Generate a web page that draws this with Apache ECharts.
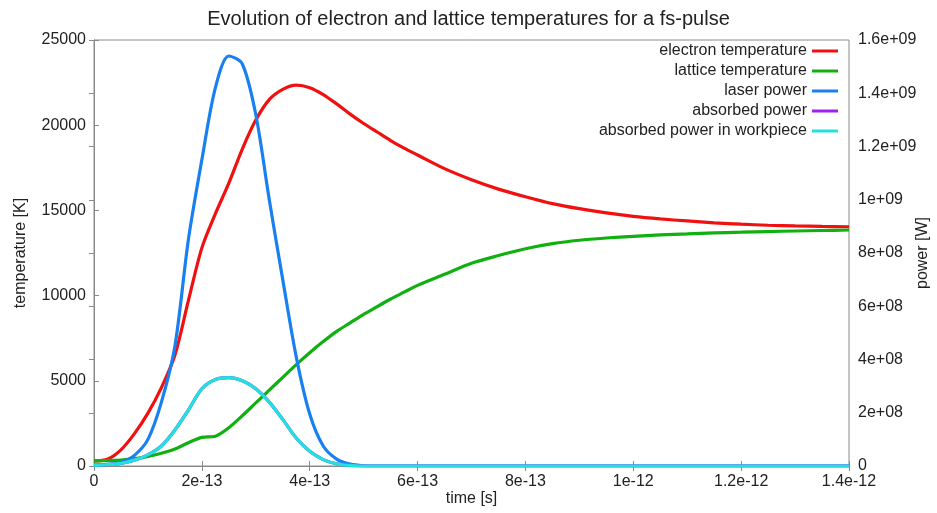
<!DOCTYPE html>
<html>
<head>
<meta charset="utf-8">
<script src="https://cdn.jsdelivr.net/npm/echarts@6/dist/echarts.min.js"></script>
<style>
html,body{margin:0;padding:0;background:#fff;}
#chart{width:937px;height:513px;}
</style>
</head>
<body>
<div id="chart"></div>
<script>
// time in units of 1e-13 s
var time = [0,0.25,0.5,0.75,1,1.25,1.5,1.75,2,2.25,2.5,2.75,3,3.25,3.5,3.75,4,4.25,4.5,4.75,5,5.25,5.5,5.75,6,
            6.5,7,7.5,8,8.5,9,9.5,10,10.5,11,11.5,12,12.5,13,13.5,14];
var electronT = [300,400,950,1900,3100,4600,6500,9700,12800,14800,16600,18600,20300,21500,22100,22350,22200,21800,21250,20650,20100,19600,19100,18650,18250,
                 17450,16800,16250,15800,15400,15100,14850,14650,14500,14380,14270,14190,14130,14090,14060,14040];
var latticeT = [300,320,350,430,560,750,1000,1370,1680,1750,2250,2950,3700,4450,5200,5950,6650,7300,7900,8400,8900,9350,9800,10200,10600,
                11250,11900,12350,12750,13050,13250,13380,13480,13560,13620,13680,13720,13760,13790,13820,13850];
var laserPower = [3e6,6e6,1.4e7,4e7,1.0e8,2.4e8,4.5e8,8.5e8,1.15e9,1.42e9,1.54e9,1.51e9,1.32e9,1.0e9,7.0e8,4.1e8,1.95e8,7.5e7,2.6e7,7e6,1e6,0,0,0,0,
                  0,0,0,0,0,0,0,0,0,0,0,0,0,0,0,0];
var absorbedPower = [2e6,5e6,1e7,2.2e7,4.2e7,7.5e7,1.35e8,2.1e8,2.9e8,3.25e8,3.32e8,3.2e8,2.9e8,2.4e8,1.75e8,1.05e8,5.5e7,2.4e7,8e6,2e6,0,0,0,0,0,
                     0,0,0,0,0,0,0,0,0,0,0,0,0,0,0,0];
var absorbedWorkpiece = [2e6,5e6,1e7,2.2e7,4.2e7,7.5e7,1.35e8,2.1e8,2.9e8,3.25e8,3.32e8,3.2e8,2.9e8,2.4e8,1.75e8,1.05e8,5.5e7,2.4e7,8e6,2e6,0,0,0,0,0,
                         0,0,0,0,0,0,0,0,0,0,0,0,0,0,0,0];
var seriesNames = ['electron temperature','lattice temperature','laser power','absorbed power','absorbed power in workpiece'];
var xTickLabels = ['0','2e-13','4e-13','6e-13','8e-13','1e-12','1.2e-12','1.4e-12'];
var yLeftTickLabels = ['0','5000','10000','15000','20000','25000'];
var yRightTickLabels = ['0','2e+08','4e+08','6e+08','8e+08','1e+09','1.2e+09','1.4e+09','1.6e+09'];

function pairs(ys){ return time.map(function(t,i){ return [t, ys[i]]; }); }

var FONT = "'Liberation Sans', Arial, sans-serif";
var TXT = '#222';
var AX = '#8a8a8a';

var chart = echarts.init(document.getElementById('chart'), null, {renderer:'canvas'});
function mk(name, data, color, yIdx){
  return {type:'line', name:name, data:pairs(data), yAxisIndex:yIdx, color:color,
    showSymbol:false, symbol:'none', smooth:0.3,
    lineStyle:{width:3.2, color:color}};
}
chart.setOption({
  animation:false,
  backgroundColor:'#fff',
  textStyle:{fontFamily:FONT},
  title:{text:'Evolution of electron and lattice temperatures for a fs-pulse', left:'center', top:4,
    textStyle:{fontFamily:FONT, fontSize:20, fontWeight:'normal', color:TXT}},
  grid:{left:94, right:88, top:40, bottom:47, show:true, borderColor:AX, borderWidth:1,
    outerBoundsMode:'none', containLabel:false},
  legend:{orient:'vertical', right:99, top:43, padding:0, align:'right', itemWidth:26, itemHeight:3, itemGap:4,
    icon:'rect', data:seriesNames,
    textStyle:{fontFamily:FONT, fontSize:16, color:TXT}},
  xAxis:[{type:'value', min:0, max:14, interval:2, position:'bottom',
      name:'time [s]', nameLocation:'middle', nameGap:25, nameMoveOverlap:false,
      nameTextStyle:{fontFamily:FONT, fontSize:16, color:TXT},
      axisLine:{show:true, lineStyle:{color:AX}}, axisTick:{show:true, inside:true, length:5, lineStyle:{color:AX}},
      axisLabel:{fontFamily:FONT, fontSize:16, color:TXT, margin:8, formatter:function(v){return xTickLabels[Math.round(v/2)];}},
      splitLine:{show:false}},
    {type:'value', min:0, max:14, interval:2, position:'top',
      axisLine:{show:true, lineStyle:{color:AX}}, axisTick:{show:true, inside:true, length:5, lineStyle:{color:AX}},
      axisLabel:{show:false}, splitLine:{show:false}}],
  yAxis:[{type:'value', min:0, max:25000, interval:5000, position:'left',
      name:'temperature [K]', nameLocation:'middle', nameGap:65, nameRotate:90, nameMoveOverlap:false,
      nameTextStyle:{fontFamily:FONT, fontSize:16, color:TXT},
      axisLine:{show:true, lineStyle:{color:AX}}, axisTick:{show:true, inside:true, length:5, lineStyle:{color:AX}},
      axisLabel:{fontFamily:FONT, fontSize:16, color:TXT, margin:8, formatter:function(v){return yLeftTickLabels[Math.round(v/5000)];}},
      splitLine:{show:false}},
    {type:'value', min:0, max:1.6e9, interval:2e8, position:'right',
      name:'power [W]', nameLocation:'middle', nameGap:66, nameRotate:90, nameMoveOverlap:false,
      nameTextStyle:{fontFamily:FONT, fontSize:16, color:TXT},
      axisLine:{show:true, lineStyle:{color:AX}}, axisTick:{show:true, inside:true, length:5, lineStyle:{color:AX}},
      axisLabel:{fontFamily:FONT, fontSize:16, color:TXT, margin:9, formatter:function(v){return yRightTickLabels[Math.round(v/2e8)];}},
      splitLine:{show:false}}],
  series:[
    mk(seriesNames[0], electronT, '#f01010', 0),
    mk(seriesNames[1], latticeT, '#10b010', 0),
    mk(seriesNames[2], laserPower, '#1a80f0', 1),
    mk(seriesNames[3], absorbedPower, '#a020f0', 1),
    mk(seriesNames[4], absorbedWorkpiece, '#20e0e0', 1)
  ]
});
</script>
</body>
</html>
